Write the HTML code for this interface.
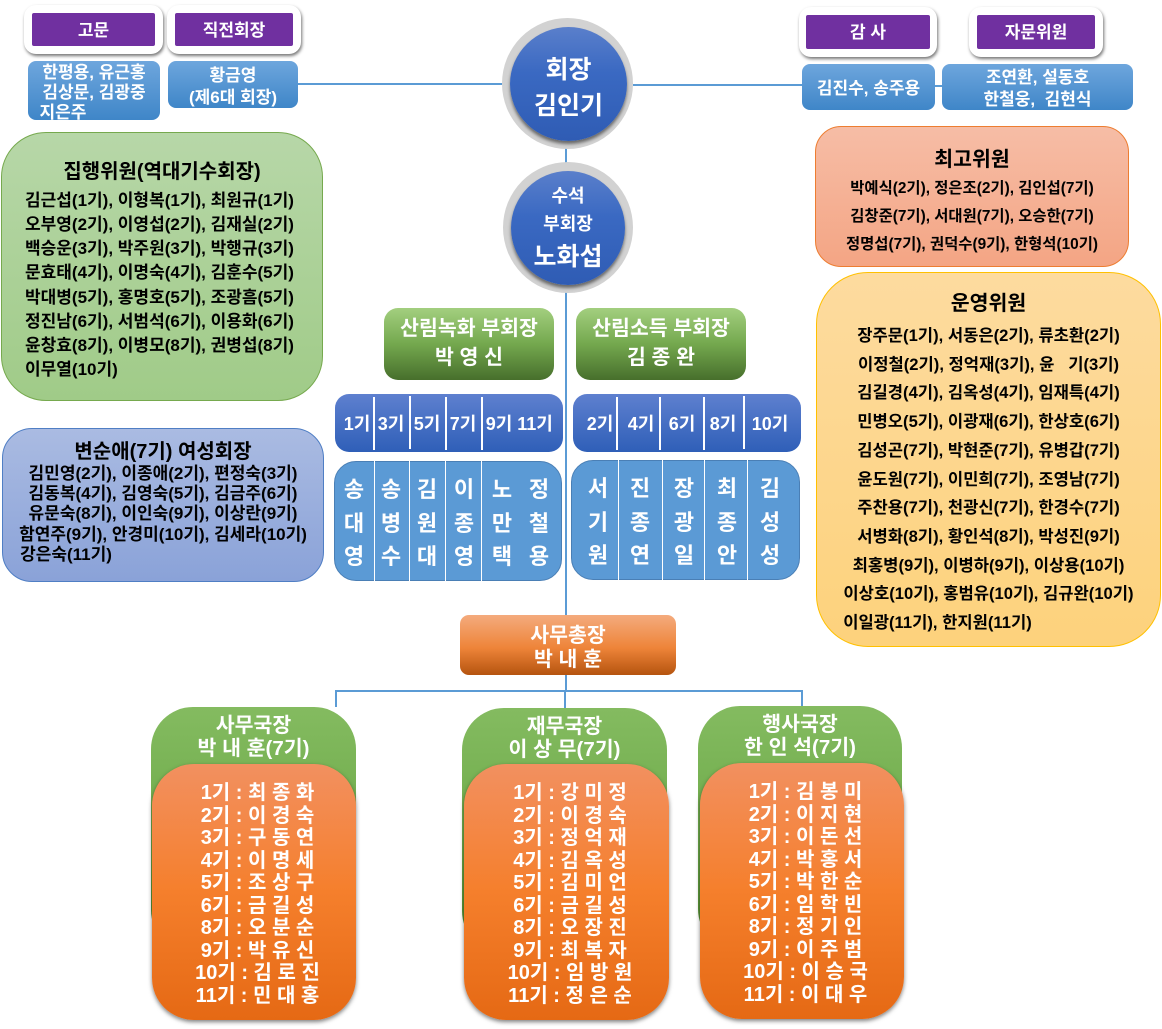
<!DOCTYPE html>
<html lang="ko"><head><meta charset="utf-8"><style>
html,body{margin:0;padding:0;background:#fff}
#p{position:relative;width:1162px;height:1029px;overflow:hidden;background:#fff;font-family:"Liberation Sans","Noto Sans CJK KR",sans-serif;font-weight:700}
#p div{position:absolute;box-sizing:border-box}
.l{background:#5b9bd5}
.card{background:#fff;border-radius:12px;box-shadow:1px 2px 3px rgba(0,0,0,.55)}
.pur{background:#7030a0;border-radius:2px;color:#fff;text-align:center;font-size:17px;line-height:33px;padding-top:1px}
.bl{background:linear-gradient(#6ea6dd,#3f86c8);border-radius:8px;color:#fff;text-align:center;font-size:17px}
.c{border-radius:50%;background:#d2d2d2}
.ci{border-radius:50%;background:linear-gradient(#5a7fcb,#3a69c2 40%,#2f5cb4);box-shadow:0 3px 3px rgba(0,0,0,.5);color:#fff;text-align:center}
.t{white-space:pre;text-align:center}
.k{color:#000;white-space:pre}
.gv{border-radius:14px;background:linear-gradient(#a3cf7f,#74a84e 50%,#476f2c);color:#fff;text-align:center;font-size:20.5px;line-height:29px;padding-top:6px}
.hd{border-radius:14px;background:linear-gradient(#5e80cf,#2f5fb8)}
.nm{border-radius:22px;background:#5b9ad5;border:1px solid #4a7fb5}
.v{background:#fff}
.h{color:#fff;font-size:18px;line-height:24px;text-align:center;width:40px;margin-left:-20px;top:412px}
.vn{color:#fff;font-size:22px;line-height:33.5px;text-align:center;width:30px;margin-left:-15px}
.g{background:linear-gradient(#84bb60,#70ac4c 50%,#4f8a2d);border-radius:42px;color:#fff;text-align:center;font-size:20.5px;line-height:23px;padding-top:7px;white-space:pre}
.o{background:linear-gradient(#f29060,#f57f2c 50%,#e56914);border-radius:42px;box-shadow:0 2px 4px rgba(0,0,0,.5);color:#fff;text-align:center;font-size:20px;line-height:22.5px;padding-top:18px;padding-left:7px;white-space:pre}
</style></head><body><div id="p">

<div class="l" style="left:298px;top:83px;width:204px;height:2px"></div>
<div class="l" style="left:633px;top:84px;width:170px;height:2px"></div>
<div class="l" style="left:934px;top:85px;width:10px;height:2px"></div>
<div class="l" style="left:565px;top:148px;width:2px;height:16px"></div>
<div class="l" style="left:565px;top:292px;width:2px;height:400px"></div>
<div class="l" style="left:335px;top:690px;width:468px;height:2px"></div>
<div class="l" style="left:335px;top:690px;width:2px;height:17px"></div>
<div class="l" style="left:564px;top:690px;width:2px;height:18px"></div>
<div class="l" style="left:801px;top:690px;width:2px;height:17px"></div>

<div class="card" style="left:24px;top:5px;width:139px;height:49px"></div>
<div class="pur" style="left:32px;top:13px;width:123px;height:33px">고문</div>
<div class="card" style="left:167px;top:5px;width:134px;height:49px"></div>
<div class="pur" style="left:175px;top:13px;width:118px;height:33px">직전회장</div>
<div class="card" style="left:799px;top:7px;width:138px;height:50px"></div>
<div class="pur" style="left:806px;top:15px;width:124px;height:34px">감 사</div>
<div class="card" style="left:969px;top:7px;width:134px;height:50px"></div>
<div class="pur" style="left:977px;top:15px;width:118px;height:34px">자문위원</div>

<div class="bl t" style="left:28px;top:61px;width:132px;height:59px;line-height:20px;padding-top:2px">한평용, 유근홍
김상문, 김광중
<span style="margin-right:62px">지은주</span></div>
<div class="bl t" style="left:168px;top:61px;width:130px;height:47px;line-height:22px;padding-top:4px">황금영
(제6대 회장)</div>
<div class="bl t" style="left:802px;top:64px;width:133px;height:46px;line-height:46px;padding-top:2px">김진수, 송주용</div>
<div class="bl t" style="left:942px;top:64px;width:191px;height:46px;line-height:22px;padding-top:3px">조연환, 설동호
한철웅,  김현식</div>

<div class="c" style="left:502px;top:18px;width:131px;height:131px"></div>
<div class="ci" style="left:510px;top:27px;width:117px;height:114px;font-size:25px;line-height:36px;padding-top:25px">회장<br>김인기</div>
<div class="c" style="left:503px;top:162px;width:130px;height:131px"></div>
<div class="ci" style="left:511px;top:171px;width:114px;height:114px;color:#fff"></div>
<div class="t" style="left:511px;top:182px;width:114px;color:#fff;font-size:18px;line-height:28px">수석</div>
<div class="t" style="left:511px;top:210px;width:114px;color:#fff;font-size:18px;line-height:28px">부회장</div>
<div class="t" style="left:511px;top:240px;width:114px;color:#fff;font-size:25px;line-height:34px">노화섭</div>

<div style="left:1px;top:132px;width:322px;height:269px;border-radius:45px;background:linear-gradient(#b7d7a8,#a0cb88);border:1px solid #76a94e"></div>
<div class="k" style="left:1px;top:157px;width:322px;text-align:center;font-size:20px;line-height:30px">집행위원(역대기수회장)</div>
<div class="k" style="left:25px;top:189px;font-size:17px;line-height:24.15px">김근섭(1기), 이형복(1기), 최원규(1기)
오부영(2기), 이영섭(2기), 김재실(2기)
백승운(3기), 박주원(3기), 박행규(3기)
문효태(4기), 이명숙(4기), 김훈수(5기)
박대병(5기), 홍명호(5기), 조광흠(5기)
정진남(6기), 서범석(6기), 이용화(6기)
윤창효(8기), 이병모(8기), 권병섭(8기)
이무열(10기)</div>

<div style="left:2px;top:428px;width:322px;height:154px;border-radius:30px;background:linear-gradient(#aabbe2,#8aa2d8);border:1px solid #4f7ec4"></div>
<div class="k" style="left:2px;top:437px;width:322px;text-align:center;font-size:20px;line-height:30px">변순애(7기) 여성회장</div>
<div class="k" style="left:2px;top:464px;width:322px;text-align:center;font-size:17px;line-height:20.2px">김민영(2기), 이종애(2기), 편정숙(3기)
김동복(4기), 김영숙(5기), 김금주(6기)
유문숙(8기), 이인숙(9기), 이상란(9기)
함연주(9기), 안경미(10기), 김세라(10기)
<span style="margin-right:194px">강은숙(11기)</span></div>

<div style="left:815px;top:126px;width:314px;height:141px;border-radius:26px;background:linear-gradient(#f6bda6,#f4a584);border:1px solid #ed7d31"></div>
<div class="k" style="left:815px;top:145px;width:314px;text-align:center;font-size:20.5px;line-height:30px">최고위원</div>
<div class="k" style="left:815px;top:175px;width:314px;text-align:center;font-size:15.4px;line-height:28px">박예식(2기), 정은조(2기), 김인섭(7기)
김창준(7기), 서대원(7기), 오승한(7기)
정명섭(7기), 권덕수(9기), 한형석(10기)</div>

<div style="left:816px;top:272px;width:345px;height:375px;border-radius:52px;background:linear-gradient(#fddb9f,#fdd27c);border:1px solid #ffc000"></div>
<div class="k" style="left:816px;top:289px;width:345px;text-align:center;font-size:20.5px;line-height:30px">운영위원</div>
<div class="k" style="left:816px;top:322px;width:345px;text-align:center;font-size:16.6px;line-height:28.7px">장주문(1기), 서동은(2기), 류초환(2기)
이정철(2기), 정억재(3기), 윤   기(3기)
김길경(4기), 김옥성(4기), 임재특(4기)
민병오(5기), 이광재(6기), 한상호(6기)
김성곤(7기), 박현준(7기), 유병갑(7기)
윤도원(7기), 이민희(7기), 조영남(7기)
주찬용(7기), 천광신(7기), 한경수(7기)
서병화(8기), 황인석(8기), 박성진(9기)
최홍병(9기), 이병하(9기), 이상용(10기)
이상호(10기), 홍범유(10기), 김규완(10기)
<span style="margin-right:102px">이일광(11기), 한지원(11기)</span></div>

<div class="gv" style="left:384px;top:308px;width:170px;height:72px">산림녹화 부회장<br>박 영 신</div>
<div class="gv" style="left:576px;top:308px;width:170px;height:72px">산림소득 부회장<br>김 종 완</div>

<div class="hd" style="left:335px;top:394px;width:228px;height:58px"></div>
<div class="hd" style="left:573px;top:394px;width:228px;height:58px"></div>
<div class="v" style="left:373px;top:397px;width:2px;height:53px"></div>
<div class="v" style="left:409px;top:396px;width:2px;height:53px"></div>
<div class="v" style="left:445px;top:397px;width:2px;height:53px"></div>
<div class="v" style="left:481px;top:397px;width:2px;height:53px"></div>
<div class="v" style="left:616px;top:397px;width:2px;height:53px"></div>
<div class="v" style="left:659px;top:397px;width:2px;height:53px"></div>
<div class="v" style="left:703px;top:397px;width:2px;height:53px"></div>
<div class="v" style="left:743px;top:396px;width:2px;height:53px"></div>
<div class="h" style="left:357px">1기</div><div class="h" style="left:391px">3기</div>
<div class="h" style="left:427px">5기</div><div class="h" style="left:463px">7기</div>
<div class="h" style="left:499px">9기</div><div class="h" style="left:535px">11기</div>
<div class="h" style="left:600px">2기</div><div class="h" style="left:641px">4기</div>
<div class="h" style="left:682px">6기</div><div class="h" style="left:723px">8기</div>
<div class="h" style="left:770px">10기</div>

<div class="nm" style="left:334px;top:461px;width:228px;height:120px"></div>
<div class="nm" style="left:571px;top:460px;width:229px;height:120px"></div>
<div class="v" style="left:374px;top:461px;width:1px;height:120px"></div>
<div class="v" style="left:409px;top:461px;width:1px;height:120px"></div>
<div class="v" style="left:445px;top:461px;width:1px;height:120px"></div>
<div class="v" style="left:481px;top:461px;width:1px;height:120px"></div>
<div class="v" style="left:618px;top:460px;width:1px;height:120px"></div>
<div class="v" style="left:662px;top:460px;width:1px;height:120px"></div>
<div class="v" style="left:704px;top:460px;width:1px;height:120px"></div>
<div class="v" style="left:747px;top:460px;width:1px;height:120px"></div>

<div class="vn" style="left:354px;top:473px">송<br>대<br>영</div>
<div class="vn" style="left:391px;top:473px">송<br>병<br>수</div>
<div class="vn" style="left:427px;top:473px">김<br>원<br>대</div>
<div class="vn" style="left:464px;top:473px">이<br>종<br>영</div>
<div class="vn" style="left:502px;top:473px">노<br>만<br>택</div>
<div class="vn" style="left:539px;top:473px">정<br>철<br>용</div>
<div class="vn" style="left:598px;top:472px">서<br>기<br>원</div>
<div class="vn" style="left:640px;top:472px">진<br>종<br>연</div>
<div class="vn" style="left:684px;top:472px">장<br>광<br>일</div>
<div class="vn" style="left:727px;top:472px">최<br>종<br>안</div>
<div class="vn" style="left:770px;top:472px">김<br>성<br>성</div>

<div style="left:460px;top:615px;width:216px;height:60px;border-radius:9px;background:linear-gradient(#f4ab7d,#ee8439 55%,#b5540f);color:#fff;text-align:center;font-size:20.5px;line-height:24px;padding-top:9px">사무총장<br>박 내 훈</div>

<div class="g" style="left:151px;top:707px;width:205px;height:245px">사무국장
박 내 훈(7기)</div>
<div class="o" style="left:152px;top:764px;width:204px;height:256px">1기 : 최 종 화
2기 : 이 경 숙
3기 : 구 동 연
4기 : 이 명 세
5기 : 조 상 구
6기 : 금 길 성
8기 : 오 분 순
9기 : 박 유 신
10기 : 김 로 진
11기 : 민 대 홍</div>

<div class="g" style="left:462px;top:708px;width:205px;height:245px">재무국장
이 상 무(7기)</div>
<div class="o" style="left:464px;top:764px;width:205px;height:256px">1기 : 강 미 정
2기 : 이 경 숙
3기 : 정 억 재
4기 : 김 옥 성
5기 : 김 미 언
6기 : 금 길 성
8기 : 오 장 진
9기 : 최 복 자
10기 : 임 방 원
11기 : 정 은 순</div>

<div class="g" style="left:698px;top:706px;width:204px;height:245px">행사국장
한 인 석(7기)</div>
<div class="o" style="left:700px;top:763px;width:204px;height:256px">1기 : 김 봉 미
2기 : 이 지 현
3기 : 이 돈 선
4기 : 박 홍 서
5기 : 박 한 순
6기 : 임 학 빈
8기 : 정 기 인
9기 : 이 주 범
10기 : 이 승 국
11기 : 이 대 우</div>

</div></body></html>
